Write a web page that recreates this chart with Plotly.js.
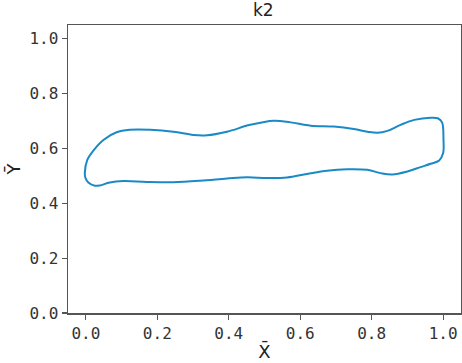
<!DOCTYPE html>
<html>
<head>
<meta charset="utf-8">
<script src="https://cdn.plot.ly/plotly-3.0.1.min.js"></script>
<style>html,body{margin:0;padding:0;background:#fff}#chart{width:462px;height:363px}</style>
</head>
<body>
<div id="chart"></div>
<script>
// Closed contour "k2"
var contourX = [-0.003, 0.004, 0.021, 0.049, 0.086, 0.123, 0.180, 0.245, 0.301, 0.339, 0.395, 0.460, 0.526, 0.573, 0.629, 0.694, 0.750, 0.788, 0.816, 0.844, 0.881, 0.919, 0.965, 0.985, 0.997, 1.001, 1.000, 0.989, 0.965, 0.937, 0.900, 0.858, 0.825, 0.788, 0.732, 0.675, 0.619, 0.563, 0.507, 0.451, 0.395, 0.320, 0.245, 0.170, 0.105, 0.067, 0.039, 0.025, 0.007, -0.001, -0.003];
var contourY = [0.509, 0.558, 0.592, 0.631, 0.659, 0.668, 0.668, 0.661, 0.649, 0.648, 0.661, 0.686, 0.701, 0.695, 0.683, 0.680, 0.671, 0.661, 0.657, 0.664, 0.686, 0.704, 0.712, 0.710, 0.695, 0.631, 0.583, 0.556, 0.544, 0.532, 0.516, 0.505, 0.510, 0.522, 0.524, 0.519, 0.507, 0.494, 0.492, 0.495, 0.490, 0.482, 0.477, 0.478, 0.481, 0.476, 0.465, 0.464, 0.476, 0.492, 0.509];
var tickVals = [0.0, 0.2, 0.4, 0.6, 0.8, 1.0];
var tickLabels = ["0.0", "0.2", "0.4", "0.6", "0.8", "1.0"];

var axisCommon = {
  showgrid: false, zeroline: false, showline: true, mirror: true,
  linecolor: '#555', linewidth: 1.5,
  ticks: 'outside', ticklen: 5, tickwidth: 1.2, tickcolor: '#555',
  tickmode: 'array', tickvals: tickVals, ticktext: tickLabels,
  tickfont: {family: 'DejaVu Sans Mono', size: 16, color: '#333'}
};

var layout = {
  width: 462, height: 363,
  margin: {l: 68, r: 1, t: 25, b: 50},
  paper_bgcolor: '#fff', plot_bgcolor: '#fff',
  showlegend: false,
  title: {text: 'k2', font: {family: 'DejaVu Sans', size: 17, color: '#222'}, x: 0.57, xanchor: 'center', y: 0.972, yanchor: 'middle'},
  xaxis: Object.assign({}, axisCommon, {range: [-0.05, 1.05],
    title: {text: 'X\u0304', font: {family: 'DejaVu Sans', size: 18, color: '#222'}, standoff: 3}}),
  yaxis: Object.assign({}, axisCommon, {range: [0, 1.05],
    title: {text: 'Y\u0304', font: {family: 'DejaVu Sans', size: 18, color: '#222'}, standoff: 4}})
};

Plotly.newPlot('chart', [{
  x: contourX, y: contourY, type: 'scatter', mode: 'lines',
  line: {color: '#1a8ac6', width: 2, shape: 'spline', smoothing: 1}
}], layout, {staticPlot: true});
</script>
</body>
</html>
